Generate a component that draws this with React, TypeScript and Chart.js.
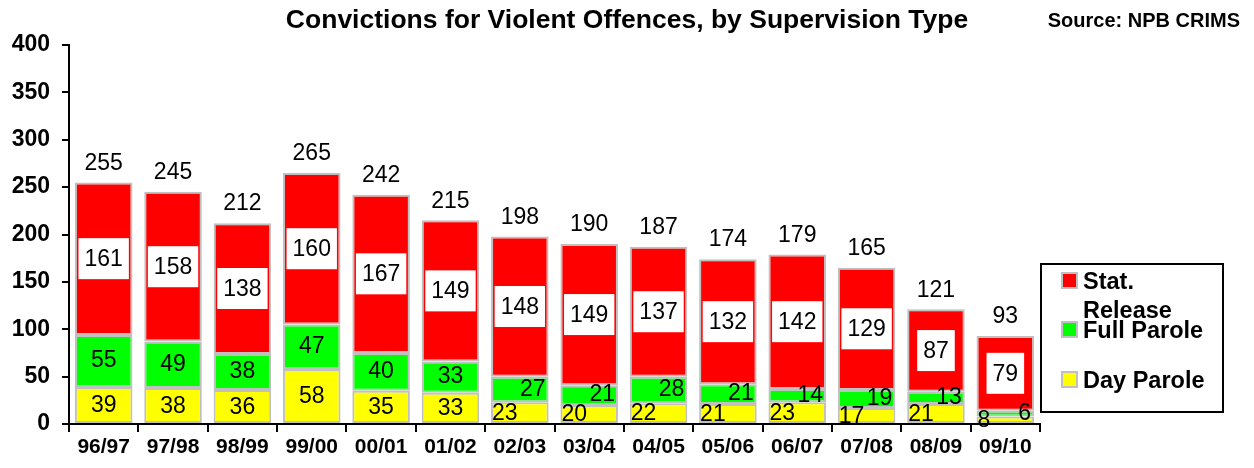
import React, { useEffect, useRef } from "react";
import { Chart, registerables } from "chart.js";

Chart.register(...registerables);

const categories = ["96/97", "97/98", "98/99", "99/00", "00/01", "01/02", "02/03", "03/04", "04/05", "05/06", "06/07", "07/08", "08/09", "09/10"];
const dayParole = [39, 38, 36, 58, 35, 33, 23, 20, 22, 21, 23, 17, 21, 8];
const fullParole = [55, 49, 38, 47, 40, 33, 27, 21, 28, 21, 14, 19, 13, 6];
const statRelease = [161, 158, 138, 160, 167, 149, 148, 149, 137, 132, 142, 129, 87, 79];
const yMin = 0;
const yMax = 400;
const yStep = 50;

const TITLE = "Convictions for Violent Offences, by Supervision Type";
const SOURCE = "Source: NPB CRIMS";
const FONT = "'Liberation Sans', Arial, Helvetica, sans-serif";

const RED = "#FF0000";
const GREEN = "#00FF00";
const YELLOW = "#FFFF00";
const BORDER = "#C0C0C0";

const legendItems = [
  { lines: ["Stat.", "Release"], color: RED },
  { lines: ["Full Parole"], color: GREEN },
  { lines: ["Day Parole"], color: YELLOW },
];

const titlePlugin = {
  id: "titleSource",
  afterDraw(chart: any) {
    const ctx = chart.ctx;
    ctx.save();
    ctx.fillStyle = "#000";
    ctx.textBaseline = "middle";
    ctx.font = `bold 26.5px ${FONT}`;
    ctx.textAlign = "center";
    ctx.fillText(TITLE, chart.width / 2, 21);
    ctx.font = `bold 20px ${FONT}`;
    ctx.textAlign = "right";
    ctx.fillText(SOURCE, chart.width - 14, 21);
    ctx.restore();
  },
};

const legendPlugin = {
  id: "customLegend",
  afterDraw(chart: any) {
    const ctx = chart.ctx;
    const left = chart.chartArea.right + 1;
    const top = 264;
    const w = 182;
    const h = 148;
    ctx.save();
    ctx.fillStyle = "#fff";
    ctx.fillRect(left, top, w, h);
    ctx.strokeStyle = "#000";
    ctx.lineWidth = 2;
    ctx.strokeRect(left, top, w, h);
    ctx.font = `bold 23.5px ${FONT}`;
    ctx.textAlign = "left";
    ctx.textBaseline = "alphabetic";
    const rows = [289, 338, 388];
    legendItems.forEach((item, i) => {
      const base = rows[i];
      ctx.fillStyle = BORDER;
      ctx.fillRect(left + 20, base - 17, 17, 17);
      ctx.fillStyle = item.color;
      ctx.fillRect(left + 22, base - 15, 13, 13);
      ctx.fillStyle = "#000";
      item.lines.forEach((ln, j) => {
        ctx.fillText(ln, left + 42, base + j * 29);
      });
    });
    ctx.restore();
  },
};

const labelPlugin = {
  id: "valueLabels",
  afterDatasetsDraw(chart: any) {
    const ctx = chart.ctx;
    const mDay = chart.getDatasetMeta(0);
    const mFull = chart.getDatasetMeta(1);
    const mStat = chart.getDatasetMeta(2);
    ctx.save();
    ctx.font = `23px ${FONT}`;
    ctx.textBaseline = "middle";
    categories.forEach((_, i) => {
      const d = mDay.data[i].getProps(["x", "y", "base", "width"], true);
      const f = mFull.data[i].getProps(["x", "y", "base", "width"], true);
      const s = mStat.data[i].getProps(["x", "y", "base", "width"], true);
      const half = d.width / 2;
      // Day parole
      const dh = Math.abs(d.base - d.y);
      const dy = (d.y + d.base) / 2;
      ctx.fillStyle = "#000";
      if (dh < 28) {
        ctx.textAlign = "left";
        ctx.fillText(String(dayParole[i]), d.x - half + 1, dy + 1);
      } else {
        ctx.textAlign = "center";
        ctx.fillText(String(dayParole[i]), d.x, dy + 1);
      }
      // Full parole
      const fh = Math.abs(f.base - f.y);
      const fy = (f.y + f.base) / 2;
      if (fh < 28) {
        ctx.textAlign = "right";
        ctx.fillText(String(fullParole[i]), f.x + half - 3, fy);
      } else {
        ctx.textAlign = "center";
        ctx.fillText(String(fullParole[i]), f.x, fy);
      }
      // Stat release with white box
      const sy = (s.y + s.base) / 2;
      const txt = String(statRelease[i]);
      const tw = ctx.measureText(txt).width;
      const bw = tw + 12;
      const bh = 41;
      ctx.fillStyle = "#fff";
      ctx.fillRect(s.x - bw / 2, sy - bh / 2, bw, bh);
      ctx.fillStyle = "#000";
      ctx.textAlign = "center";
      ctx.fillText(txt, s.x, sy + 1);
      // Total
      const total = dayParole[i] + fullParole[i] + statRelease[i];
      ctx.fillText(String(total), s.x, s.y - 19);
    });
    ctx.restore();
  },
};

export default function App() {
  const ref = useRef<HTMLCanvasElement | null>(null);
  useEffect(() => {
    if (!ref.current) return;
    const common = {
      borderColor: BORDER,
      borderWidth: 2,
      borderSkipped: false,
      barPercentage: 0.83,
      categoryPercentage: 1.0,
    };
    const chart = new Chart(ref.current, {
      type: "bar",
      data: {
        labels: categories,
        datasets: [
          { label: "Day Parole", data: dayParole, backgroundColor: YELLOW, ...common },
          { label: "Full Parole", data: fullParole, backgroundColor: GREEN, ...common },
          { label: "Stat. Release", data: statRelease, backgroundColor: RED, ...common },
        ],
      },
      options: {
        responsive: false,
        animation: false,
        events: [],
        layout: { padding: { top: 45, right: 214, bottom: 0, left: 0 } },
        plugins: {
          legend: { display: false },
          title: { display: false },
          tooltip: { enabled: false },
        },
        scales: {
          x: {
            stacked: true,
            grid: {
              display: true,
              offset: true,
              drawOnChartArea: false,
              drawTicks: true,
              tickLength: 8,
              color: "#000",
              lineWidth: 2,
            },
            border: { display: true, color: "#000", width: 2 },
            ticks: {
              color: "#000",
              font: { family: FONT, size: 21, weight: "bold" },
              padding: 3,
              maxRotation: 0,
              autoSkip: false,
            },
            afterFit: (scale: any) => {
              scale.height = 44;
            },
          },
          y: {
            stacked: true,
            min: yMin,
            max: yMax,
            grid: {
              display: true,
              drawOnChartArea: false,
              drawTicks: true,
              tickLength: 7,
              color: "#000",
              lineWidth: 2,
            },
            border: { display: true, color: "#000", width: 2 },
            ticks: {
              stepSize: yStep,
              color: "#000",
              font: { family: FONT, size: 23, weight: "bold" },
              padding: 12,
            },
            afterFit: (scale: any) => {
              scale.width = 69;
            },
          },
        },
      },
      plugins: [labelPlugin, titlePlugin, legendPlugin],
    } as any);
    return () => chart.destroy();
  }, []);
  return (
    <div style={{ position: "absolute", left: 0, top: 0, width: 1254, height: 468, background: "#fff" }}>
      <canvas ref={ref} width={1254} height={468} style={{ display: "block" }} />
    </div>
  );
}
